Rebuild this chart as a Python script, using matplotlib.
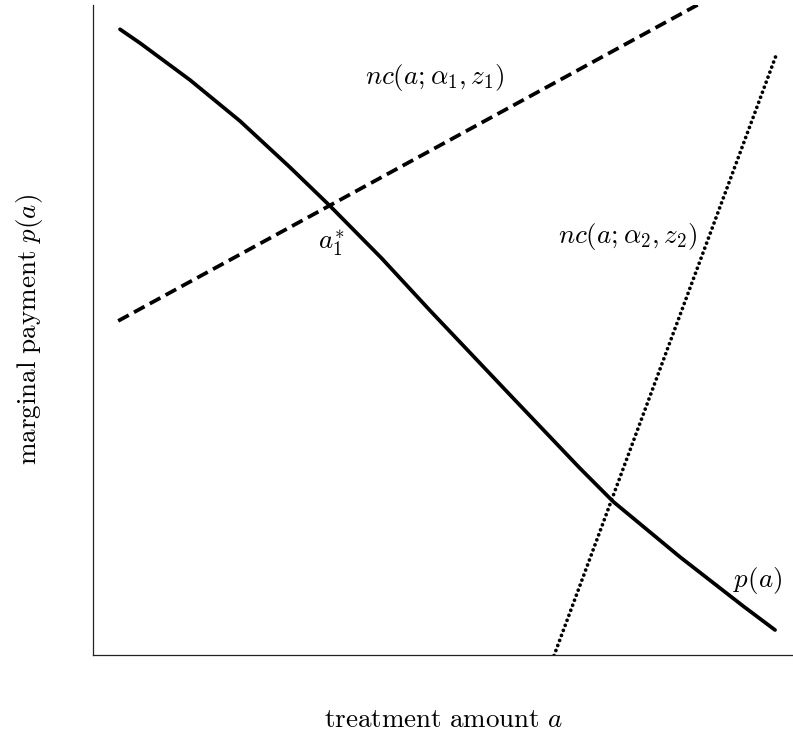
import matplotlib
matplotlib.use("Agg")
import matplotlib.pyplot as plt

plt.rcParams['font.family'] = 'serif'
plt.rcParams['font.serif'] = ['cmr10', 'DejaVu Serif']
plt.rcParams['mathtext.fontset'] = 'cm'
plt.rcParams['axes.formatter.use_mathtext'] = True

# p(a): marginal payment curve
p_x = [0.386, 0.671, 1.386, 2.100, 2.814, 3.386, 4.124, 4.814, 6.004,
       6.957, 7.433, 8.386, 9.286, 9.743]
p_y = [9.626, 9.415, 8.846, 8.215, 7.503, 6.908, 6.103, 5.300, 3.949,
       2.872, 2.358, 1.508, 0.754, 0.385]

# nc(a; alpha1, z1): dashed line
nc1_x = [0.36, 9.74]
nc1_y = [5.14, 10.65]

# nc(a; alpha2, z2): dotted line
nc2_x = [6.40, 9.76]
nc2_y = [-0.55, 9.23]

fig = plt.figure(figsize=(7.93, 7.38), dpi=100)
ax = fig.add_axes([93/793, 83/738, 700/793, 650/738])

LW = 2.7
ax.plot(p_x, p_y, color='black', lw=LW, solid_capstyle='round', solid_joinstyle='round')
ax.plot(nc1_x, nc1_y, color='black', lw=LW, linestyle=(0, (3.2, 1.6)), dash_capstyle='butt')
ax.plot(nc2_x, nc2_y, color='black', lw=LW, linestyle=(0, (0.01, 1.42)), dash_capstyle='round')

ax.set_xlim(0, 10)
ax.set_ylim(0, 10)
for s in ['top', 'right']:
    ax.spines[s].set_visible(False)
for s in ['left', 'bottom']:
    ax.spines[s].set_linewidth(0.9)
    ax.spines[s].set_color('#222222')
ax.set_xticks([])
ax.set_yticks([])

fs = 19.5
ax.text(4.88, 8.88, r'$nc(a;\alpha_1,z_1)$', fontsize=fs, ha='center', va='center')
ax.text(8.63, 6.44, r'$nc(a;\alpha_2,z_2)$', fontsize=fs, ha='right', va='center')
ax.text(3.4, 6.34, r'$a_1^{*}$', fontsize=fs, ha='center', va='center')
ax.text(9.5, 1.15, r'$p(a)$', fontsize=fs, ha='center', va='center')

fig.text(443/793, 1 - 720/738, r'$\mathrm{treatment\ amount}\ a$', fontsize=fs, ha='center', va='center')
fig.text(30/793, 1 - 330/738, r'$\mathrm{marginal\ payment}\ p(a)$', fontsize=fs, ha='center', va='center', rotation=90)

fig.savefig('out.png', dpi=100)
